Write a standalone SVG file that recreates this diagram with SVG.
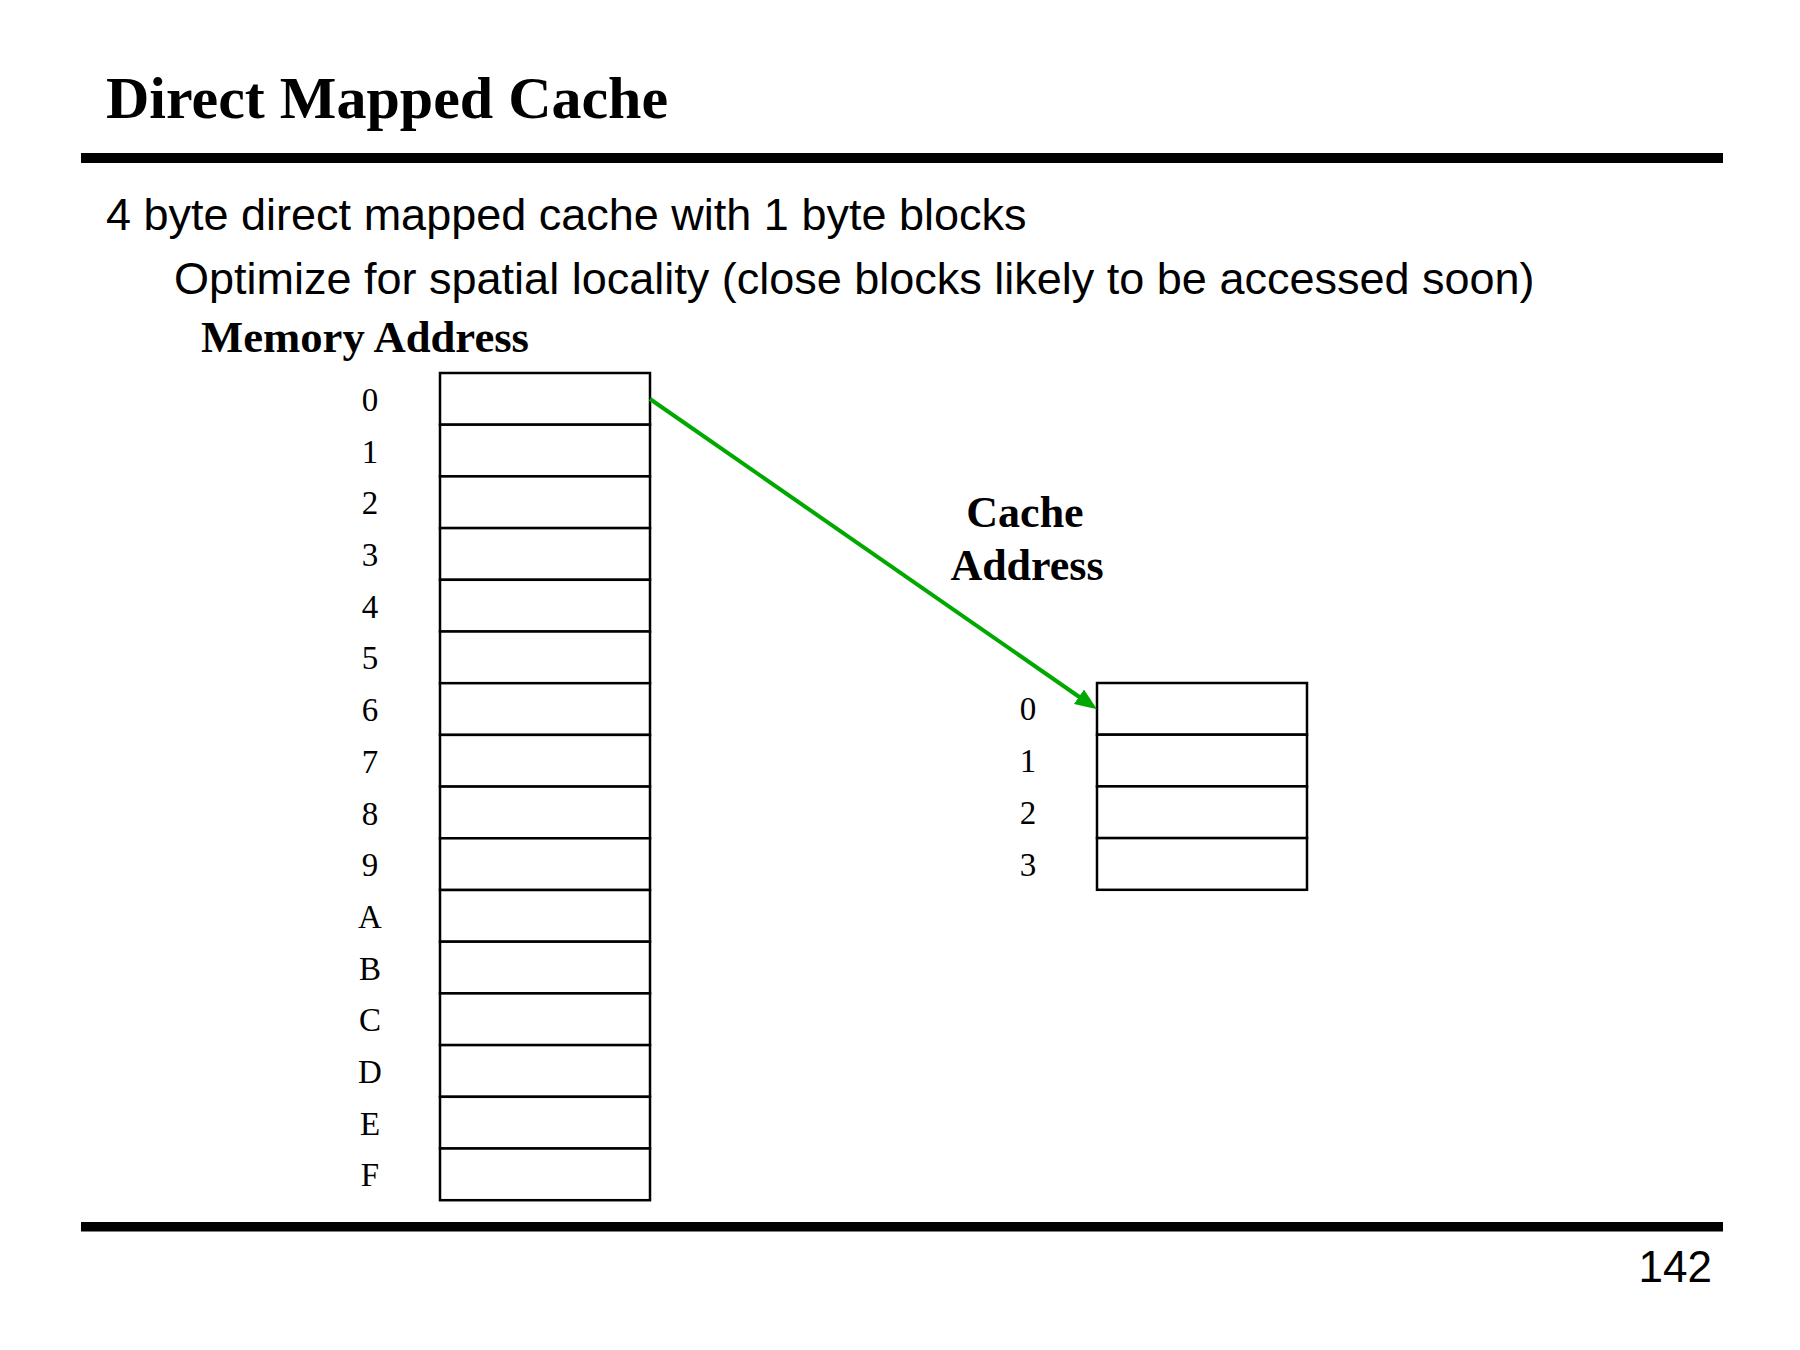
<svg xmlns="http://www.w3.org/2000/svg" width="1800" height="1350" viewBox="0 0 1800 1350">
<style>
.serif{font-family:"Liberation Serif","Times New Roman",serif;fill:#000}
.sans{font-family:"Liberation Sans",Arial,sans-serif;fill:#000}
.b{font-weight:bold}
.lbl{font-family:"Liberation Serif","Times New Roman",serif;font-size:33px;text-anchor:middle;fill:#000}
.cell{fill:#fff;stroke:#000;stroke-width:2.5}
</style>
<defs>
<marker id="ah" viewBox="0 0 10 8" refX="5" refY="4" markerWidth="5.5" markerHeight="4.4" orient="auto">
<path d="M0,0 L10,4 L0,8 Z" fill="#00A800"/>
</marker>
</defs>
<rect width="1800" height="1350" fill="#fff"/>
<g id="header">
<text class="serif b" x="106" y="118" font-size="60">Direct Mapped Cache</text>
<rect x="81" y="153" width="1642" height="10" fill="#000"/>
<text class="sans" x="106" y="230" font-size="45">4 byte direct mapped cache with 1 byte blocks</text>
<text class="sans" x="174" y="294" font-size="45">Optimize for spatial locality (close blocks likely to be accessed soon)</text>
</g>
<g id="memory">
<text class="serif b" x="201" y="352" font-size="44" textLength="328" lengthAdjust="spacingAndGlyphs">Memory Address</text>
<rect class="cell" x="440" y="373" width="210" height="51.7"/>
<rect class="cell" x="440" y="424.7" width="210" height="51.7"/>
<rect class="cell" x="440" y="476.4" width="210" height="51.7"/>
<rect class="cell" x="440" y="528.1" width="210" height="51.7"/>
<rect class="cell" x="440" y="579.8" width="210" height="51.7"/>
<rect class="cell" x="440" y="631.5" width="210" height="51.7"/>
<rect class="cell" x="440" y="683.2" width="210" height="51.7"/>
<rect class="cell" x="440" y="734.9" width="210" height="51.7"/>
<rect class="cell" x="440" y="786.6" width="210" height="51.7"/>
<rect class="cell" x="440" y="838.3" width="210" height="51.7"/>
<rect class="cell" x="440" y="890" width="210" height="51.7"/>
<rect class="cell" x="440" y="941.7" width="210" height="51.7"/>
<rect class="cell" x="440" y="993.4" width="210" height="51.7"/>
<rect class="cell" x="440" y="1045.1" width="210" height="51.7"/>
<rect class="cell" x="440" y="1096.8" width="210" height="51.7"/>
<rect class="cell" x="440" y="1148.5" width="210" height="51.7"/>
<text class="lbl" x="370" y="410.9">0</text>
<text class="lbl" x="370" y="462.6">1</text>
<text class="lbl" x="370" y="514.3">2</text>
<text class="lbl" x="370" y="566">3</text>
<text class="lbl" x="370" y="617.7">4</text>
<text class="lbl" x="370" y="669.4">5</text>
<text class="lbl" x="370" y="721.1">6</text>
<text class="lbl" x="370" y="772.8">7</text>
<text class="lbl" x="370" y="824.5">8</text>
<text class="lbl" x="370" y="876.2">9</text>
<text class="lbl" x="370" y="927.9">A</text>
<text class="lbl" x="370" y="979.6">B</text>
<text class="lbl" x="370" y="1031.3">C</text>
<text class="lbl" x="370" y="1083">D</text>
<text class="lbl" x="370" y="1134.7">E</text>
<text class="lbl" x="370" y="1186.4">F</text>
</g>
<g id="cache">
<text class="serif b" x="1025" y="527" font-size="44" text-anchor="middle">Cache</text>
<text class="serif b" x="1027" y="580" font-size="44" text-anchor="middle">Address</text>
<rect class="cell" x="1097" y="683" width="210" height="51.7"/>
<rect class="cell" x="1097" y="734.7" width="210" height="51.7"/>
<rect class="cell" x="1097" y="786.4" width="210" height="51.7"/>
<rect class="cell" x="1097" y="838.1" width="210" height="51.7"/>
<text class="lbl" x="1028" y="720.4">0</text>
<text class="lbl" x="1028" y="772.1">1</text>
<text class="lbl" x="1028" y="823.8">2</text>
<text class="lbl" x="1028" y="875.5">3</text>
</g>
<g id="connectors">
<path d="M650,399 L1088,703" fill="none" stroke="#00A800" stroke-width="4" marker-end="url(#ah)"/>
</g>
<g id="footer">
<rect x="81" y="1222" width="1642" height="9.5" fill="#000"/>
<text class="sans" x="1712" y="1282" font-size="44" text-anchor="end">142</text>
</g>
</svg>
